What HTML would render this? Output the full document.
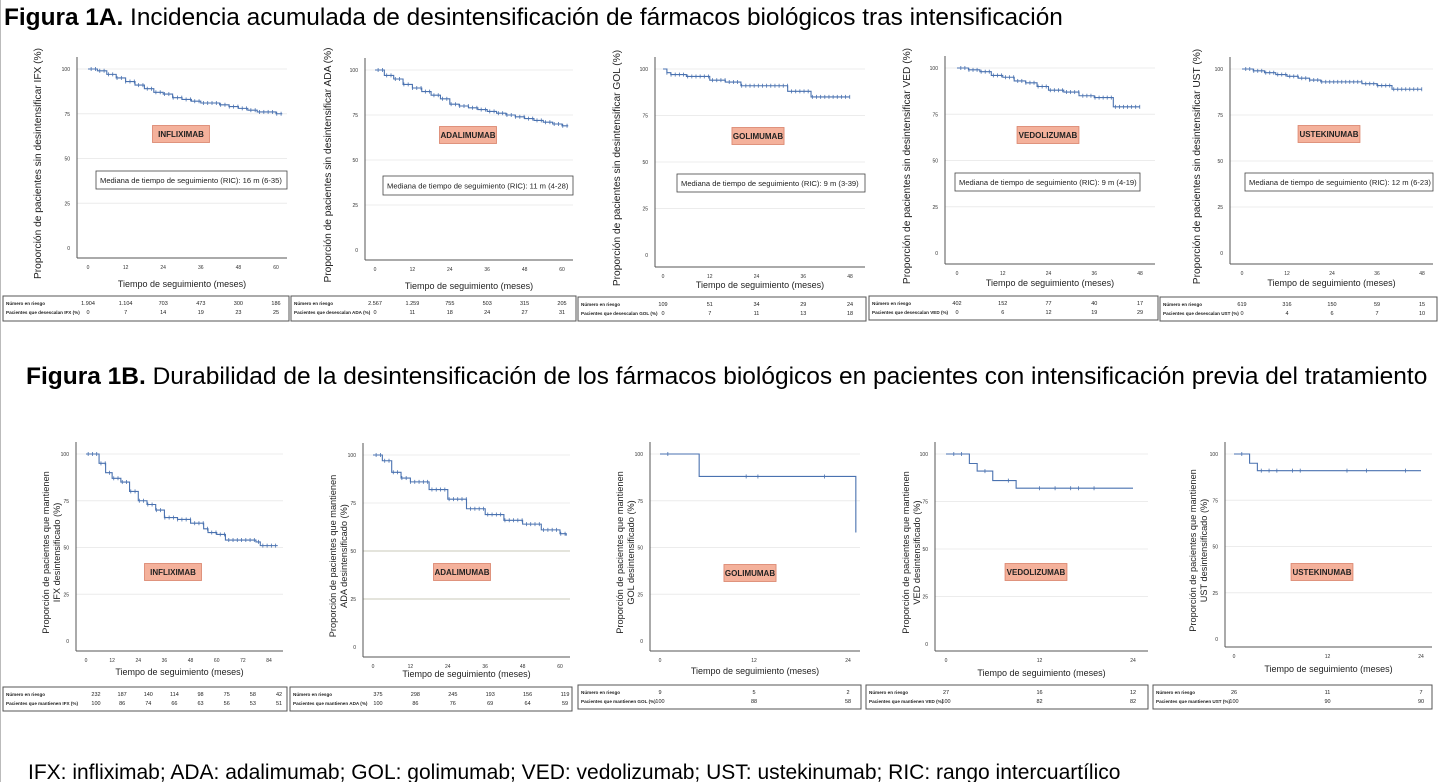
<!DOCTYPE html>
<html><head><meta charset="utf-8">
<style>
html,body{margin:0;padding:0;background:#fff;}
body{width:1438px;height:782px;overflow:hidden;position:relative;font-family:"Liberation Sans",sans-serif;}
svg{position:absolute;left:0;top:0;}
</style></head>
<body>
<svg id="chart" width="1438" height="782" viewBox="0 0 1438 782">
<line x1="0.5" y1="0" x2="0.5" y2="782" stroke="#bbb" stroke-width="1"/>
<text x="4" y="25" font-size="24.4" fill="#000"><tspan font-weight="bold">Figura 1A.</tspan> Incidencia acumulada de desintensificación de fármacos biológicos tras intensificación</text>
<text x="26" y="384" font-size="24.5" fill="#000"><tspan font-weight="bold">Figura 1B.</tspan> Durabilidad de la desintensificación de los fármacos biológicos en pacientes con intensificación previa del tratamiento</text>
<text x="28" y="779" font-size="21" fill="#000">IFX: infliximab; ADA: adalimumab; GOL: golimumab; VED: vedolizumab; UST: ustekinumab; RIC: rango intercuartílico</text>
<g id="panels"></g>
</svg>
<script>
// ---- data (times in months, survival %) ----
const aIfxT=[0,3,6,9,12,15,18,21,24,27,30,33,36,39,42,45,48,51,54,57,60,62];
const aIfxS=[100,99,97,95,93,91,89,87,86,84,83,82,81,81,80,79,78,77,76,76,75,75];
const aAdaT=[0,3,6,9,12,15,18,21,24,27,30,33,36,39,42,45,48,51,54,57,60,62];
const aAdaS=[100,97,95,92,90,88,86,84,81,80,79,78,77,76,75,74,73,72,71,70,69,69];
const aGolT=[0,1,2,6,12,16,20,28,32,38,48];
const aGolS=[100,98,97,96,94,93,91,91,88,85,85];
const aVedT=[0,3,6,9,12,15,18,21,24,28,32,36,41,48];
const aVedS=[100,99,98,96,95,93,92,90,88,87,85,84,79,79];
const aUstT=[0,3,6,9,12,15,18,21,24,28,32,36,40,48];
const aUstS=[100,99,98,97,96,95,94,93,93,93,92,91,89,89];
const bIfxT=[0,3,6,9,12,16,20,24,28,32,36,42,48,54,56,60,64,72,78,80,88];
const bIfxS=[100,100,95,90,87,85,80,75,73,70,66,65,63,60,58,57,54,54,53,51,51];
const bAdaT=[0,3,6,9,12,18,24,30,36,42,48,54,60,62];
const bAdaS=[100,97,91,88,86,82,77,72,69,66,64,61,59,58];
const bGolT=[0,5,25,25];
const bGolS=[100,88,88,58];
const bVedT=[0,3,4,6,9,24];
const bVedS=[100,95,91,86,82,82];
const bUstT=[0,2,3,24];
const bUstS=[100,95,91,91];
// tables
const aIfxRisk=["1.904","1.104","703","473","300","186"], aIfxPct=["0","7","14","19","23","25"];
const aAdaRisk=["2.567","1.259","755","503","315","205"], aAdaPct=["0","11","18","24","27","31"];
const aGolRisk=["109","51","34","29","24"], aGolPct=["0","7","11","13","18"];
const aVedRisk=["402","152","77","40","17"], aVedPct=["0","6","12","19","29"];
const aUstRisk=["619","316","150","59","15"], aUstPct=["0","4","6","7","10"];
const bIfxRisk=["232","187","140","114","98","75","58","42"], bIfxPct=["100","86","74","66","63","56","53","51"];
const bAdaRisk=["375","298","245","193","156","119"], bAdaPct=["100","86","76","69","64","59"];
const bGolRisk=["9","5","2"], bGolPct=["100","88","58"];
const bVedRisk=["27","16","12"], bVedPct=["100","82","82"];
const bUstRisk=["26","11","7"], bUstPct=["100","90","90"];
const aXTicks=[0,12,24,36,48,60], aXTicks48=[0,12,24,36,48];
const bXTicksIfx=[0,12,24,36,48,60,72,84], bXTicksAda=[0,12,24,36,48,60], bXTicks24=[0,12,24];
const yTicks=[0,25,50,75,100];

const NS="http://www.w3.org/2000/svg";
const root=document.getElementById('panels');
function mk(tag,attrs,parent,txt){const e=document.createElementNS(NS,tag);for(const k in attrs)e.setAttribute(k,attrs[k]);if(txt!==undefined)e.textContent=txt;(parent||root).appendChild(e);return e;}

const panels=[
 {id:'a-ifx',drug:'INFLIXIMAB',T:aIfxT,S:aIfxS,risk:aIfxRisk,pct:aIfxPct,ticks:aXTicks,ax:77,ar:287,x0:88,x1:276,y100:69,y0:248,axY:258,ylab:['Proporción de pacientes sin desintensificar IFX (%)'],ylx:41,drugC:[181,134],med:[96,171,191,18,'Mediana de tiempo de seguimiento (RIC):  16 m (6-35)'],xl:287,tb:[3,296,286,25],tl:'Pacientes que desescalan IFX (%)',toff:0},
 {id:'a-ada',drug:'ADALIMUMAB',T:aAdaT,S:aAdaS,risk:aAdaRisk,pct:aAdaPct,ticks:aXTicks,ax:365,ar:573,x0:375,x1:562,y100:70,y0:250,axY:260,ylab:['Proporción de pacientes sin desintensificar ADA (%)'],ylx:331,drugC:[468,135],med:[383,176,190,19,'Mediana de tiempo de seguimiento (RIC):  11 m (4-28)'],xl:289,tb:[291,296,285,25],tl:'Pacientes que desescalan ADA (%)',toff:0},
 {id:'a-gol',drug:'GOLIMUMAB',T:aGolT,S:aGolS,risk:aGolRisk,pct:aGolPct,ticks:aXTicks48,ax:655,ar:865,x0:663,x1:850,y100:69,y0:255,axY:267,ylab:['Proporción de pacientes sin desintensificar GOL (%)'],ylx:620,drugC:[758,136],med:[677,174,188,18,'Mediana de tiempo de seguimiento (RIC): 9 m (3-39)'],xl:288,tb:[578,297,288,24],tl:'Pacientes que desescalan GOL (%)',toff:0},
 {id:'a-ved',drug:'VEDOLIZUMAB',T:aVedT,S:aVedS,risk:aVedRisk,pct:aVedPct,ticks:aXTicks48,ax:945,ar:1155,x0:957,x1:1140,y100:68,y0:253,axY:264,ylab:['Proporción de pacientes sin desintensificar VED (%)'],ylx:910,drugC:[1048,135],med:[955,173,185,18,'Mediana de tiempo de seguimiento (RIC): 9 m (4-19)'],xl:286,tb:[869,296,289,24],tl:'Pacientes que desescalan VED (%)',toff:0},
 {id:'a-ust',drug:'USTEKINUMAB',T:aUstT,S:aUstS,risk:aUstRisk,pct:aUstPct,ticks:aXTicks48,ax:1230,ar:1433,x0:1242,x1:1422,y100:69,y0:253,axY:264,ylab:['Proporción de pacientes sin desintensificar UST (%)'],ylx:1200,drugC:[1329,134],med:[1245,173,188,18,'Mediana de tiempo de seguimiento (RIC): 12 m (6-23)'],xl:286,tb:[1160,297,277,24],tl:'Pacientes que desescalan UST (%)',toff:0},
 {id:'b-ifx',drug:'INFLIXIMAB',T:bIfxT,S:bIfxS,risk:bIfxRisk,pct:bIfxPct,ticks:bXTicksIfx,ax:76,ar:283,x0:86,x1:269,y100:454,y0:641,axY:651,ylab:['Proporción de pacientes que mantienen','IFX desintensificado (%)'],ylx:49,drugC:[173,572],med:null,xl:675,tb:[3,687,284,24],tl:'Pacientes que mantienen IFX (%)',toff:10},
 {id:'b-ada',drug:'ADALIMUMAB',T:bAdaT,S:bAdaS,risk:bAdaRisk,pct:bAdaPct,ticks:bXTicksAda,ax:363,ar:570,x0:373,x1:560,y100:455,y0:647,axY:657,ylab:['Proporción de pacientes que mantienen','ADA desintensificado (%)'],ylx:336,drugC:[462,572],med:null,xl:677,tb:[290,687,282,24],tl:'Pacientes que mantienen ADA (%)',toff:5,grey:true},
 {id:'b-gol',drug:'GOLIMUMAB',T:bGolT,S:bGolS,risk:bGolRisk,pct:bGolPct,ticks:bXTicks24,ax:650,ar:860,x0:660,x1:848,y100:454,y0:641,axY:651,ylab:['Proporción de pacientes que mantienen','GOL desintensificado (%)'],ylx:623,drugC:[750,573],med:null,xl:674,tb:[578,685,283,24],tl:'Pacientes que mantienen GOL (%)',toff:0,cens:[1,11,12.5,21]},
 {id:'b-ved',drug:'VEDOLIZUMAB',T:bVedT,S:bVedS,risk:bVedRisk,pct:bVedPct,ticks:bXTicks24,ax:935,ar:1148,x0:946,x1:1133,y100:454,y0:644,axY:651,ylab:['Proporción de pacientes que mantienen','VED desintensificado (%)'],ylx:909,drugC:[1036,572],med:null,xl:676,tb:[866,685,282,24],tl:'Pacientes que mantienen VED (%)',toff:0,cens:[1,2,5,8,12,14,16,17,19]},
 {id:'b-ust',drug:'USTEKINUMAB',T:bUstT,S:bUstS,risk:bUstRisk,pct:bUstPct,ticks:bXTicks24,ax:1225,ar:1432,x0:1234,x1:1421,y100:454,y0:639,axY:647,ylab:['Proporción de pacientes que mantienen','UST desintensificado (%)'],ylx:1196,drugC:[1322,572],med:null,xl:672,tb:[1153,685,279,24],tl:'Pacientes que mantienen UST (%)',toff:0,cens:[1,3.5,4.5,5.5,7.5,8.5,14.5,17,22]}
];

panels.forEach(p=>{
 const g=mk('g',{});
 
 
 const xs=t=>p.x0+t*(p.x1-p.x0)/p.ticks[p.ticks.length-1];
 const ys=v=>p.y100+(100-v)*(p.y0-p.y100)/100;
 yTicks.forEach(v=>{
  if(v>0){const gl=mk('line',{x1:p.ax,x2:p.ar,y1:ys(v),y2:ys(v),stroke:(p.grey&&v<=50)?'#c8c8b8':'#ececec','stroke-width':1},g);
  
  }
  const tl=mk('text',{x:p.ax-7,y:ys(v)+2,'font-size':5,'text-anchor':'end',fill:'#333'},g,String(v));
  
  
 });
 const ya=mk('line',{x1:p.ax,x2:p.ax,y1:p.y100-12,y2:p.axY,stroke:'#555','stroke-width':1},g);
 
 
 const xa=mk('line',{x1:p.ax,x2:p.ar,y1:p.axY,y2:p.axY,stroke:'#555','stroke-width':1},g);
 
 
 p.ticks.forEach(t=>{
  const tl=mk('text',{x:xs(t),y:p.axY+11,'font-size':5,'text-anchor':'middle',fill:'#333'},g,String(t));
  
  
 });
 const cy=(p.y100+p.axY)/2;
 const yl=mk('text',{transform:`translate(${p.ylx},${cy}) rotate(-90)`,'font-size':p.ylab.length>1?9.2:10.2,'text-anchor':'middle',fill:'#222'},g);
 p.ylab.forEach((s,i)=>{mk('tspan',{x:0,dy:i?11:0},yl,s);});
 
 
 const xl=mk('text',{x:(p.ax+p.ar)/2,y:p.xl,'font-size':9,'text-anchor':'middle',fill:'#222'},g,'Tiempo de seguimiento (meses)');
 
 
 let d=`M${xs(p.T[0])},${ys(p.S[0])}`;
 for(let i=1;i<p.T.length;i++){d+=` H${xs(p.T[i])} V${ys(p.S[i])}`;}
 const c=mk('path',{d:d,fill:'none',stroke:'#4a72b0','stroke-width':1.1},g);
 
 
 const sAt=t=>{let v=p.S[0];for(let i=0;i<p.T.length;i++){if(p.T[i]<=t)v=p.S[i];}return v;};
 let cens=p.cens;
 if(!cens){cens=[];const tm=p.T[p.T.length-1];for(let t=1;t<tm;t+=tm/45)cens.push(t);}
 cens.forEach(t=>{
  const m=mk('line',{x1:xs(t),x2:xs(t),y1:ys(sAt(t))-2,y2:ys(sAt(t))+2,stroke:'#4a72b0','stroke-width':0.8},g);
  
  
 });
 const [dx,dy]=p.drugC;const w=p.drug.length*4.9+8;
 const db=mk('rect',{x:dx-w/2,y:dy-8.5,width:w,height:17,fill:'#f4b19b',stroke:'#d9826a','stroke-width':0.8},g);
 
 
 const dt=mk('text',{x:dx,y:dy+3,'font-size':8,'font-weight':'bold','text-anchor':'middle',fill:'#222'},g,p.drug);
 
 
 if(p.med){const [mx,my,mw,mh,mt]=p.med;
  const mb=mk('rect',{x:mx,y:my,width:mw,height:mh,fill:'#fff',stroke:'#444','stroke-width':0.8},g);
  
  
  const mtx=mk('text',{x:mx+4,y:my+mh/2+3,'font-size':7.6,fill:'#222'},g,mt);
  
  }
 const [tx,ty,tw,th]=p.tb;
 const tr=mk('rect',{x:tx,y:ty,width:tw,height:th,fill:'#fff',stroke:'#555','stroke-width':1},g);
 
 
 const l1=mk('text',{x:tx+3,y:ty+9,'font-size':4.6,'font-weight':'bold',fill:'#222'},g,'Número en riesgo');
 
 
 const l2=mk('text',{x:tx+3,y:ty+18,'font-size':4.6,'font-weight':'bold',fill:'#222'},g,p.tl);
 
 
 p.risk.forEach((v,i)=>{
  const x=xs(p.ticks[i])+p.toff;
  const a=mk('text',{x:x,y:ty+9,'font-size':5.5,'text-anchor':'middle',fill:'#222'},g,v);
  
  
  const b=mk('text',{x:x,y:ty+18,'font-size':5.5,'text-anchor':'middle',fill:'#222'},g,p.pct[i]);
  
  
 });
});
</script>
</body></html>
